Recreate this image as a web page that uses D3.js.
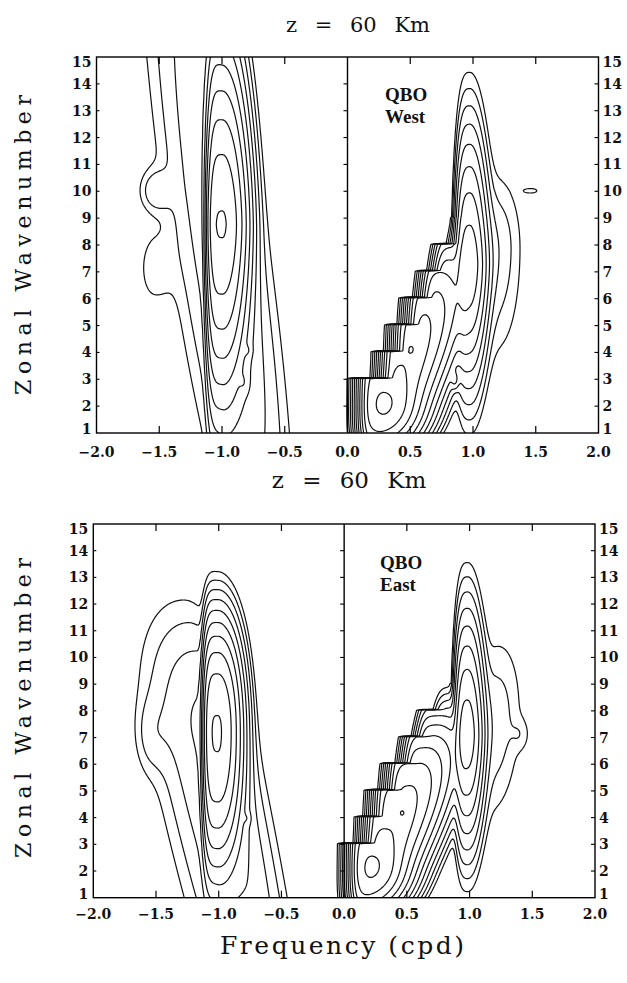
<!DOCTYPE html>
<html><head><meta charset="utf-8">
<script src="https://cdn.jsdelivr.net/npm/d3@7"></script>
<style>body{margin:0;background:#fff}</style>
</head><body>
<svg id="chart" width="627" height="983" xmlns="http://www.w3.org/2000/svg"></svg>
<script>
// ---------------- data ----------------
const freqTicks = [-2.0, -1.5, -1.0, -0.5, 0.0, 0.5, 1.0, 1.5, 2.0];
const wavenumberTicks = d3.range(1, 16);
const contourLevels = d3.range(0, 13).map(i => Math.pow(2, i)); // log-spaced contours
const panelTitles = ["z = 60 Km", "z = 60 Km"];
const panelLabels = [["QBO", "West"], ["QBO", "East"]];

// spectral features: [freq, wavenumber, log2 peak, width west, width east,
//                     extent down, extent up, k-shape, tilt, west-flank shape]
const westPeaks = [
  [-1.00, 8.75, 9.05, 0.075, 0.090, 2.28, 2.28, 1.64, 0, 4],
  [-0.98, 8.00, 3.00, 0.220, 0.170, 7.0, 9.0, 2, -0.03, 2],
  [-1.53, 10.0, 1.60, 0.080, 0.080, 0.50, 0.50, 2, 0, 2],
  [-1.55, 7.10, 0.60, 0.080, 0.100, 0.90, 0.90, 2, 0, 2],
  [-0.80, 4.05, 2.40, 0.020, 0.020, 0.15, 0.15, 2, 0, 2],
  [-0.83, 2.85, 2.40, 0.025, 0.025, 0.25, 0.25, 2, 0, 2],
  [0.97, 7.30, 7.50, 0.060, 0.065, 1.70, 1.90, 1.61, 0, 3],
  [1.18, 7.80, 1.50, 0.100, 0.130, 2.50, 1.80, 2, 0, 2],
  [1.46, 10.0, 0.38, 0.055, 0.055, 0.09, 0.09, 2, 0, 2],
  [0.50, 4.10, 8.20, 0.020, 0.020, 0.12, 0.12, 2, 0, 2],
  [0.85, 2.95, 3.60, 0.020, 0.020, 0.20, 0.20, 2, 0, 2]
];
const westLowFreq = [
  [0.28, 2.05, 10.3, 0.10, 0.12, 0.6, 0.7, 2, 0, 2],
  [0.30, 2.00, 10.0, 0.60, 0.15, 1.0, 2.7, 3, 0.085, 2]
];
// low-frequency cut-off for each wavenumber row (k in (n-1, n])
const westCutoff = [0.14, 0.14, 0.14, 0.33, 0.43, 0.53, 0.64, 0.73, 0.85, 1.0, 1.2, 1.4, 1.6, 1.8, 2.0];

const eastPeaks = [
  [-1.01, 7.20, 9.05, 0.070, 0.085, 2.10, 1.75, 2.1, 0, 4],
  [-1.05, 7.00, 3.30, 0.250, 0.160, 8.0, 2.4, 2, -0.045, 2],
  [-1.54, 7.10, 1.00, 0.080, 0.100, 0.90, 0.90, 2, 0, 2],
  [-0.78, 3.95, 2.40, 0.020, 0.020, 0.15, 0.15, 2, 0, 2],
  [0.98, 7.10, 7.50, 0.055, 0.060, 1.60, 1.75, 1.65, 0, 3],
  [1.20, 7.50, 1.50, 0.100, 0.130, 2.20, 2.00, 2, 0.01, 2],
  [1.40, 7.10, 0.20, 0.050, 0.050, 0.40, 0.40, 2, 0, 2],
  [0.46, 4.16, 8.20, 0.020, 0.020, 0.12, 0.12, 2, 0, 2]
];
const eastLowFreq = [
  [0.21, 2.10, 10.3, 0.10, 0.12, 0.6, 0.7, 2, 0, 2],
  [0.21, 2.00, 10.0, 0.60, 0.15, 1.0, 2.5, 3, 0.095, 2]
];
const eastCutoff = [0.09, 0.09, 0.09, 0.22, 0.29, 0.40, 0.52, 0.62, 0.75, 0.90, 1.1, 1.3, 1.5, 1.7, 1.9];
const cutoffSharpness = 0.022;

// ---------------- layout ----------------
const panels = [
  {peaks: westPeaks, low: westLowFreq, cut: westCutoff, title: panelTitles[0], label: panelLabels[0],
   box: {l: 96.5, r: 598.5, t: 57, b: 433}, titleX: 358, titleY: 32, titleSize: 21, titleWS: 11,
   labelX: 385, labelY: [101, 123], yLabelC: 245, xLabY: 457},
  {peaks: eastPeaks, low: eastLowFreq, cut: eastCutoff, title: panelTitles[1], label: panelLabels[1],
   box: {l: 93.3, r: 595, t: 524, b: 897.7}, titleX: 349, titleY: 488, titleSize: 23, titleWS: 11,
   labelX: 380, labelY: [569, 591], yLabelC: 708, xLabY: 919}
];

const svg = d3.select("#chart");
svg.append("rect").attr("width", 627).attr("height", 983).attr("fill", "#fff");

function peakValue(p, f, k) {
  const [f0, k0, a, sxl, sxr, syd, syu, pk, tilt, pxl] = p;
  const dk = k - k0;
  const dx = f - (f0 + tilt * dk);
  let qf;
  if (dx < 0) qf = Math.pow(-dx / sxl, pxl) / pxl;
  else qf = 0.5 * (dx / sxr) * (dx / sxr);
  const sy = dk < 0 ? syd : syu;
  const q = qf + Math.pow(Math.abs(dk) / sy, pk) / pk;
  return Math.pow(2, a) * Math.exp(-q);
}

const f0g = -2.04, df = 0.01, nx = 409;
const k0g = 0.92, dkg = 0.04, ny = 355;

panels.forEach((P, pi) => {
  const b = P.box;
  const x = d3.scaleLinear().domain([-2, 2]).range([b.l, b.r]);
  const y = d3.scaleLinear().domain([1, 15]).range([b.b, b.t]);
  const g = svg.append("g");

  const values = new Float64Array(nx * ny);
  for (let j = 0; j < ny; j++) {
    const k = k0g + j * dkg;
    const kr = Math.round(k * 1e6) / 1e6;
    const n = Math.min(15, Math.max(1, Math.ceil(kr)));
    const edge = P.cut[n - 1];
    for (let i = 0; i < nx; i++) {
      const f = f0g + i * df;
      let s = 0;
      for (const p of P.peaks) s += peakValue(p, f, k);
      let m = 0;
      for (const p of P.low) m += peakValue(p, f, k);
      s += m / (1 + Math.exp(-(f - edge) / cutoffSharpness));
      values[j * nx + i] = s;
    }
  }
  const contours = d3.contours().size([nx, ny]).thresholds(contourLevels)(values);
  const proj = d3.geoTransform({
    point: function(px, py) { this.stream.point(x(f0g + px * df), y(k0g + py * dkg)); }
  });
  const path = d3.geoPath(proj);
  const clipId = "clip" + pi;
  svg.append("clipPath").attr("id", clipId).append("rect")
    .attr("x", b.l).attr("y", b.t).attr("width", b.r - b.l).attr("height", b.b - b.t);
  g.append("g").attr("clip-path", `url(#${clipId})`)
    .selectAll("path").data(contours).join("path")
    .attr("d", path).attr("fill", "none").attr("stroke", "#111").attr("stroke-width", 1.2)
    .attr("stroke-linejoin", "round");

  g.append("rect").attr("x", b.l).attr("y", b.t).attr("width", b.r - b.l).attr("height", b.b - b.t)
    .attr("fill", "none").attr("stroke", "#000").attr("stroke-width", 1.4);
  g.append("line").attr("x1", x(0)).attr("x2", x(0)).attr("y1", b.t).attr("y2", b.b)
    .attr("stroke", "#000").attr("stroke-width", 1.4);

  const fmt = d3.format(".1f");
  freqTicks.forEach(t => {
    if (t > -2 && t < 2 && t !== 0) {
      g.append("line").attr("x1", x(t)).attr("x2", x(t)).attr("y1", b.b).attr("y2", b.b - 7).attr("stroke", "#000").attr("stroke-width", 1.2);
      g.append("line").attr("x1", x(t)).attr("x2", x(t)).attr("y1", b.t).attr("y2", b.t + 7).attr("stroke", "#000").attr("stroke-width", 1.2);
    }
    g.append("text").attr("x", x(t)).attr("y", P.xLabY).attr("text-anchor", "middle")
      .attr("font-family", "DejaVu Serif").attr("font-weight", "bold").attr("font-size", 14)
      .attr("fill", "#111").text(fmt(t));
  });
  wavenumberTicks.forEach(t => {
    if (t > 1 && t < 15) {
      g.append("line").attr("x1", x(0) - 4).attr("x2", x(0)).attr("y1", y(t)).attr("y2", y(t)).attr("stroke", "#000").attr("stroke-width", 1.1);
      g.append("line").attr("x1", b.r - 4).attr("x2", b.r).attr("y1", y(t)).attr("y2", y(t)).attr("stroke", "#000").attr("stroke-width", 1.1);
      g.append("line").attr("x1", b.l).attr("x2", b.l + 3).attr("y1", y(t)).attr("y2", y(t)).attr("stroke", "#000").attr("stroke-width", 1.1);
    }
    const off = t === 15 ? 5 : (t === 1 ? -4 : 0);
    g.append("text").attr("x", b.l - 5).attr("y", y(t) + off + 5).attr("text-anchor", "end")
      .attr("font-family", "DejaVu Serif").attr("font-weight", "bold").attr("font-size", 14)
      .attr("fill", "#111").text(t);
    g.append("text").attr("x", b.r + 4).attr("y", y(t) + off + 5).attr("text-anchor", "start")
      .attr("font-family", "DejaVu Serif").attr("font-weight", "bold").attr("font-size", 14)
      .attr("fill", "#111").text(t);
  });

  g.append("text").attr("x", P.titleX).attr("y", P.titleY).attr("text-anchor", "middle")
    .attr("font-family", "DejaVu Serif").attr("font-size", P.titleSize).attr("fill", "#111")
    .attr("word-spacing", P.titleWS).attr("xml:space", "preserve").text(P.title);
  P.label.forEach((s, i) => {
    g.append("text").attr("x", P.labelX).attr("y", P.labelY[i])
      .attr("font-family", "Liberation Serif").attr("font-weight", "bold").attr("font-size", 19)
      .attr("fill", "#111").text(s);
  });
  g.append("text").attr("transform", `translate(31,${P.yLabelC}) rotate(-90)`).attr("text-anchor", "middle")
    .attr("font-family", "DejaVu Serif").attr("font-size", 22).attr("fill", "#111")
    .attr("textLength", 300).attr("lengthAdjust", "spacing").text("Zonal Wavenumber");
});

svg.append("text").attr("x", 342).attr("y", 954).attr("text-anchor", "middle")
  .attr("font-family", "DejaVu Serif").attr("font-size", 25).attr("fill", "#111")
  .attr("textLength", 244).attr("lengthAdjust", "spacing").text("Frequency (cpd)");
</script>
</body></html>
